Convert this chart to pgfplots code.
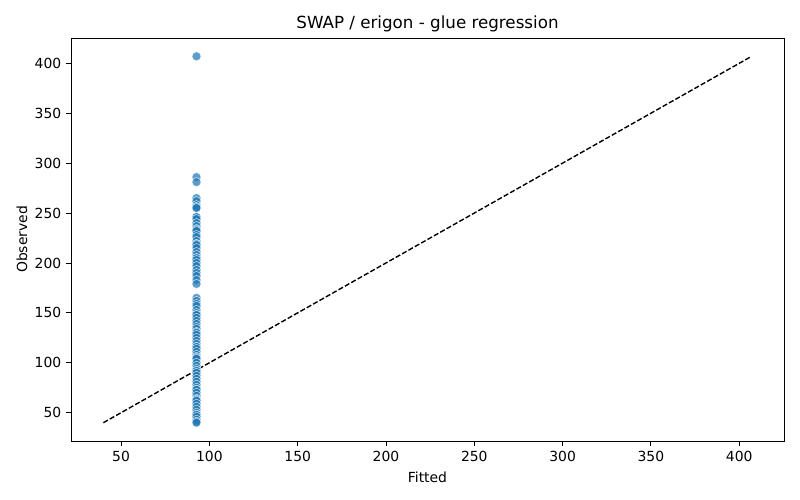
\documentclass[border=0pt]{standalone}
\usepackage{pgfplots}
\pgfplotsset{compat=1.18}
\usepackage{fontspec}
\setmainfont{DejaVu Sans}
\definecolor{mplblue}{HTML}{1F77B4}
\begin{document}
\begin{tikzpicture}
\fontsize{13.9bp}{16bp}\selectfont
\path[use as bounding box] (-71bp,-59bp) rectangle (729bp,441bp);
\begin{axis}[
  at={(0,0)}, anchor=south west,
  scale only axis, width=713bp, height=403bp,
  xmin=21.65, xmax=425.35, ymin=21.65, ymax=425.35,
  xtick={50,100,...,400}, ytick={50,100,...,400},
  tick align=outside, xtick pos=bottom, ytick pos=left,
  major tick length=4.9bp,
  every tick/.style={black, line width=0.9bp},
  axis line style={line width=0.9bp},
  /pgf/number format/assume math mode=true,
  ticklabel style={font=\fontsize{13.9bp}{16bp}\selectfont},
  xlabel={Fitted}, ylabel={Observed},
  label style={font=\fontsize{13.9bp}{16bp}\selectfont},
  title={SWAP / erigon - glue regression},
  title style={font=\fontsize{16.7bp}{19bp}\selectfont, yshift=-5bp},
  xlabel style={yshift=-1bp},
  ylabel style={yshift=-2bp},
]
\addplot[only marks, mark=*, mark size=4.5bp,
  mark options={fill=mplblue, fill opacity=0.72, draw=white, draw opacity=0.7, line width=0.6bp}]
coordinates {
(92.7,407) (92.7,286) (92.7,281)
(92.7,265) (92.7,262) (92.7,258) (92.7,256) (92.7,256) (92.7,255) (92.7,246) (92.7,246) (92.7,244) (92.7,240)
(92.7,237) (92.7,234) (92.7,233) (92.7,232) (92.7,228) (92.7,226) (92.7,222) (92.7,219) (92.7,219) (92.7,218)
(92.7,215) (92.7,211) (92.7,208) (92.7,205) (92.7,205) (92.7,203) (92.7,200) (92.7,197) (92.7,193) (92.7,190)
(92.7,187) (92.7,183) (92.7,179)
(92.7,165) (92.7,162) (92.7,159) (92.7,157) (92.7,153) (92.7,150) (92.7,148) (92.7,148) (92.7,145) (92.7,142)
(92.7,139) (92.7,136) (92.7,134) (92.7,131) (92.7,130) (92.7,128) (92.7,125) (92.7,122) (92.7,119) (92.7,116)
(92.7,116) (92.7,114) (92.7,111) (92.7,108) (92.7,106) (92.7,105) (92.7,104) (92.7,100) (92.7,97) (92.7,94)
(92.7,92) (92.7,92) (92.7,90) (92.7,87) (92.7,84) (92.7,81) (92.7,78) (92.7,75) (92.7,73) (92.7,73) (92.7,70)
(92.7,67) (92.7,64) (92.7,63) (92.7,62) (92.7,59) (92.7,56) (92.7,53) (92.7,50) (92.7,48) (92.7,48) (92.7,46)
(92.7,43) (92.7,41) (92.7,40)
};
\addplot[black, line width=1.39bp, dash pattern=on 5.1bp off 2.2bp] coordinates {(40,40) (407,407)};
\end{axis}
\end{tikzpicture}
\end{document}
